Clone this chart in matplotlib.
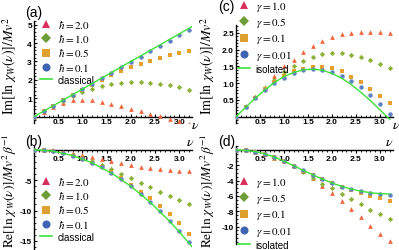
import matplotlib
matplotlib.use("Agg")
import matplotlib.pyplot as plt
from matplotlib.lines import Line2D
from matplotlib.ticker import MultipleLocator

plt.rcParams['mathtext.fontset'] = 'stix'
plt.rcParams['font.family'] = ['Liberation Sans', 'DejaVu Sans']

# frequency grid of the points
nu = [0.0, 0.2, 0.4, 0.6, 0.8, 1.0, 1.2, 1.4, 1.6, 1.8, 2.0, 2.2, 2.4, 2.6, 2.8, 3.0, 3.2]

# (a) Im part, different hbar
a_h20 = [0, 0.28, 0.55, 0.75, 0.88, 0.93, 0.9, 0.82, 0.7, 0.57, 0.43, 0.3, 0.15, 0.02, -0.12, -0.25, -0.4]
a_h10 = [0, 0.3, 0.58, 0.85, 1.1, 1.33, 1.52, 1.67, 1.78, 1.85, 1.88, 1.88, 1.85, 1.78, 1.7, 1.6, 1.47]
a_h05 = [0, 0.3, 0.6, 0.88, 1.17, 1.45, 1.73, 2.0, 2.25, 2.48, 2.68, 2.88, 3.05, 3.2, 3.35, 3.47, 3.57]
a_h01 = [0, 0.3, 0.6, 0.9, 1.2, 1.5, 1.79, 2.09, 2.39, 2.68, 2.98, 3.27, 3.56, 3.85, 4.14, 4.43, 4.72]
classical_nu = [0.0, 3.3]
classical_im = [0.0, 4.95]

# (b) Re part, different hbar
b_h20 = [0, -0.03, -0.12, -0.3, -0.55, -0.85, -1.2, -1.55, -1.9, -2.25, -2.55, -2.8, -3.0, -3.15, -3.3, -3.42, -3.55]
b_h10 = [0, -0.06, -0.24, -0.52, -0.9, -1.35, -1.9, -2.5, -3.2, -3.95, -4.7, -5.45, -6.2, -6.9, -7.6, -8.25, -8.9]
b_h05 = [0, -0.06, -0.24, -0.54, -0.95, -1.48, -2.1, -2.85, -3.7, -4.7, -5.8, -6.9, -8.0, -9.25, -10.6, -12.1, -13.9]
b_h01 = [0, -0.06, -0.24, -0.54, -0.96, -1.5, -2.15, -2.92, -3.82, -4.83, -5.96, -7.2, -8.57, -10.05, -11.66, -13.38, -15.22]
classical_re_nu = [0.0, 0.4, 0.8, 1.2, 1.6, 2.0, 2.4, 2.8, 3.0, 3.2, 3.26]
classical_re = [0.0, -0.24, -0.96, -2.16, -3.84, -6.0, -8.64, -11.76, -13.5, -15.36, -15.95]

# (c) Im part, different gamma
c_g100 = [0, 0.31, 0.6, 0.9, 1.23, 1.5, 1.7, 1.94, 2.12, 2.27, 2.38, 2.46, 2.5, 2.52, 2.52, 2.52, 2.51]
c_g050 = [0, 0.3, 0.58, 0.85, 1.1, 1.33, 1.52, 1.67, 1.79, 1.87, 1.9, 1.89, 1.85, 1.78, 1.68, 1.57, 1.45]
c_g010 = [0, 0.3, 0.57, 0.82, 1.05, 1.22, 1.35, 1.43, 1.48, 1.49, 1.44, 1.35, 1.2, 1.04, 0.84, 0.63, 0.4]
c_g001 = [0, 0.28, 0.55, 0.8, 1.0, 1.17, 1.3, 1.38, 1.41, 1.39, 1.33, 1.22, 1.07, 0.88, 0.65, 0.38, 0.08]
isolated_im = [0, 0.28, 0.55, 0.8, 1.02, 1.2, 1.32, 1.4, 1.42, 1.39, 1.29, 1.15, 0.96, 0.73, 0.48, 0.2, -0.08]

# (d) Re part, different gamma
d_g100 = [0, -0.05, -0.25, -0.55, -1.0, -1.5, -2.1, -2.8, -3.7, -4.7, -5.6, -6.7, -7.75, -8.8, -9.9, -11.0, -11.95]
d_g050 = [0, -0.05, -0.25, -0.55, -1.0, -1.5, -2.1, -2.85, -3.6, -4.4, -5.0, -5.7, -6.4, -7.1, -7.8, -8.4, -9.0]
d_g010 = [0, -0.05, -0.22, -0.52, -0.95, -1.47, -2.07, -2.7, -3.3, -3.85, -4.35, -4.8, -5.2, -5.6, -6.0, -6.3, -6.6]
d_g001 = [0, -0.05, -0.2, -0.5, -0.94, -1.45, -2.05, -2.66, -3.26, -3.81, -4.32, -4.77, -5.13, -5.42, -5.63, -5.78, -5.85]
isolated_re = [0, -0.05, -0.2, -0.5, -0.93, -1.45, -2.05, -2.65, -3.25, -3.8, -4.3, -4.75, -5.1, -5.38, -5.58, -5.7, -5.75]

hbar_labels = [r'$\hbar=2.0$', r'$\hbar=1.0$', r'$\hbar=0.5$', r'$\hbar=0.1$', 'classical']
gamma_labels = [r'$\gamma=1.0$', r'$\gamma=0.5$', r'$\gamma=0.1$', r'$\gamma=0.01$', 'isolated']

# y tick labels of each panel
a_yticks = [1, 2, 3, 4, 5]
b_yticks = [-15, -10, -5]
c_yticks = [0.5, 1.0, 1.5, 2.0, 2.5]
d_yticks = [-10, -8, -6, -4, -2]

# colours: points / legend symbols
pt_cols = ['#F0673C', '#8DB23A', '#E6A030', '#5F82C4']
lg_cols = ['#D8305A', '#6C9E38', '#E0A030', '#3E64B2']
marks = ['^', 'D', 's', 'o']
msize = [3.4, 2.7, 3.0, 3.2]
line_col = '#3EE03A'

W, H = 399, 251
fig = plt.figure(figsize=(W / 100, H / 100), dpi=100)


def box(l, t, r, b):
    return [l / W, 1 - b / H, (r - l) / W, (b - t) / H]


def setup(ax, ylim, yticks, minor, top_axis):
    ax.set_xlim(0, 3.27)
    ax.set_ylim(*ylim)
    for s in ['top', 'right']:
        ax.spines[s].set_visible(False)
    ax.spines['left'].set_position(('data', 0))
    ax.spines['bottom'].set_position(('data', 0))
    for s in ['left', 'bottom']:
        ax.spines[s].set_linewidth(1.0)
    ax.xaxis.set_major_locator(MultipleLocator(0.5))
    ax.xaxis.set_minor_locator(MultipleLocator(0.1))
    ax.set_yticks(yticks)
    ax.yaxis.set_minor_locator(MultipleLocator(minor))
    xd = 'out' if top_axis else 'in'
    ax.tick_params(axis='x', which='major', direction=xd, length=2.5, width=0.8, pad=1.2,
                   labelsize=6)
    ax.tick_params(axis='x', which='minor', direction=xd, length=1.3, width=0.6)
    ax.tick_params(axis='y', which='major', direction='in', length=2.5, width=0.8, pad=1.5,
                   labelsize=6)
    ax.tick_params(axis='y', which='minor', direction='in', length=1.3, width=0.6)
    ax.xaxis.set_major_formatter(plt.FuncFormatter(lambda v, p: '' if abs(v) < 1e-9 else f'{v:.1f}'))
    frac = any(abs(t - round(t)) > 1e-9 for t in yticks)
    ax.set_yticklabels([f'{t:.1f}' if frac else f'{t:.0f}' for t in yticks])
    for t in ax.get_xticklabels() + ax.get_yticklabels():
        t.set_fontweight('bold')


def panel(ax, series, line_x, line_y, labels, leg_anchor):
    for i, ys in enumerate(series):
        ax.plot(nu, ys, linestyle='none', marker=marks[i], markersize=msize[i],
                color=pt_cols[i], markeredgewidth=0, zorder=3 + i)
    ax.plot(line_x, line_y, color=line_col, linewidth=1.0, zorder=8)
    handles = [Line2D([], [], linestyle='none', marker=marks[i], color=lg_cols[i],
                      markersize=[6, 5, 5.5, 5.8][i], markeredgewidth=0) for i in range(4)]
    handles.append(Line2D([], [], color=line_col, linewidth=1.2))
    leg = ax.legend(handles, labels, loc='upper left', bbox_to_anchor=leg_anchor,
                    bbox_transform=fig.transFigure, frameon=False, fontsize=8,
                    handlelength=1.1, handletextpad=0.5, labelspacing=0.2,
                    borderaxespad=0, borderpad=0)
    leg.get_texts()[4].set_fontsize(7)


ax_a = fig.add_axes(box(34, 22.0, 192.3, 124.1))
setup(ax_a, (-0.35, 5.2), a_yticks, 0.2, False)
panel(ax_a, [a_h20, a_h10, a_h05, a_h01], classical_nu, classical_im, hbar_labels,
      (40 / W, 1 - 19 / H))

ax_c = fig.add_axes(box(236, 25.6, 393, 124.4))
setup(ax_c, (-0.2, 2.75), c_yticks, 0.1, False)
panel(ax_c, [c_g100, c_g050, c_g010, c_g001], nu, isolated_im, gamma_labels,
      (238 / W, 1 - 0 / H))

ax_b = fig.add_axes(box(34, 147.1, 192.3, 249.8))
setup(ax_b, (-16.3, 0.6), b_yticks, 1, True)
panel(ax_b, [b_h20, b_h10, b_h05, b_h01], classical_re_nu, classical_re, hbar_labels,
      (40 / W, 1 - 176 / H))

ax_d = fig.add_axes(box(236, 147.2, 393, 245.1))
setup(ax_d, (-12.3, 0.5), d_yticks, 0.5, True)
panel(ax_d, [d_g100, d_g050, d_g010, d_g001], nu, isolated_re, gamma_labels,
      (238 / W, 1 - 176 / H))

# panel letters, axis names
for txt, x, y in [('(a)', 25, 13), ('(c)', 218, 7), ('(b)', 25, 142), ('(d)', 218, 142)]:
    fig.text(x / W, 1 - y / H, txt, fontsize=10, va='center', ha='left')
for x, y in [(195, 125), (396, 125), (190, 142), (389, 142)]:
    fig.text(x / W, 1 - y / H, r'$\nu$', fontsize=10, va='center', ha='center')

fig.text(10 / W, 1 - 66 / H, r'$\mathrm{Im}[\ln\,\chi_W(\nu)]/Mv^2$', rotation=90,
         fontsize=10, va='center', ha='center')
fig.text(208 / W, 1 - 66 / H, r'$\mathrm{Im}[\ln\,\chi_W(\nu)]/Mv^2$', rotation=90,
         fontsize=10, va='center', ha='center')
fig.text(9.5 / W, 1 - 191 / H, r'$\mathrm{Re}[\ln\,\chi_W(\nu)]/Mv^2\beta^{-1}$', rotation=90,
         fontsize=9.6, va='center', ha='center')
fig.text(207.5 / W, 1 - 191 / H, r'$\mathrm{Re}[\ln\,\chi_W(\nu)]/Mv^2\beta^{-1}$', rotation=90,
         fontsize=9.6, va='center', ha='center')

fig.savefig("out.png", dpi=100)
